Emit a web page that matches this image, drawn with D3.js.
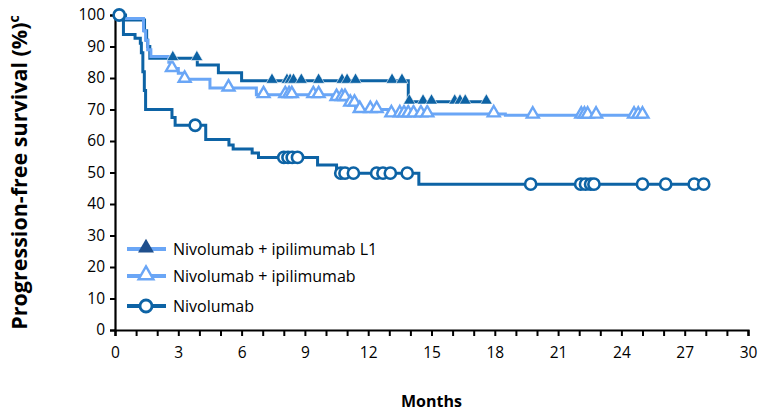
<!DOCTYPE html>
<html>
<head>
<meta charset="utf-8">
<script src="https://cdn.jsdelivr.net/npm/d3@7"></script>
<style>
  body { margin: 0; background: #fff; }
  svg text { font-family: "Open Sans", sans-serif; }
</style>
</head>
<body>
<svg id="graph" width="762" height="411"></svg>
<script>
// tick labels
const x_ticks = [0, 3, 6, 9, 12, 15, 18, 21, 24, 27, 30]
const y_ticks = [0, 10, 20, 30, 40, 50, 60, 70, 80, 90, 100]

// Nivolumab + ipilimumab L1 (step times in months, survival %)
const l1_t = [0, 0.5, 1.4, 1.5, 1.55, 1.65, 3.9, 4.9, 6.0, 13.9, 17.6]
const l1_s = [100, 98.4, 95, 92, 90, 86.3, 84.1, 81.7, 79.1, 72.5, 72.5]
const l1_censor = [2.74, 3.88, 7.44, 8.15, 8.3, 8.46, 8.83, 9.65, 10.76, 11.0, 11.4, 13.13, 13.6,
  13.95, 14.6, 15.0, 16.1, 16.35, 16.6, 17.6]

// Nivolumab + ipilimumab
const ni_t = [0, 0.35, 1.35, 1.45, 1.55, 1.7, 2.55, 2.65, 3.0, 3.25, 4.5, 6.7, 10.3, 11.0, 11.4, 12.95, 18.5, 25.0]
const ni_s = [100, 98.9, 95, 92, 89, 86.8, 85, 83, 81.5, 79.6, 76.8, 74.7, 73.8, 72, 70, 68.6, 68.2, 68.2]
const ni_censor = [2.7, 3.3, 5.38, 7.04, 8.07, 8.25, 8.38, 9.4, 9.65, 10.5, 10.75, 10.9, 11.15, 11.35,
  11.6, 12.1, 12.4, 13.1, 13.5, 13.7, 13.9, 14.15, 14.5, 14.8, 17.95, 19.8, 22.1, 22.25, 22.4, 22.8,
  24.6, 24.8, 25.0]

// Nivolumab
const nv_t = [0, 0.4, 0.95, 1.2, 1.25, 1.32, 1.39, 1.45, 2.7, 2.85, 4.3, 5.4, 5.6, 6.5, 6.8, 9.6, 10.5, 14.4, 27.9]
const nv_s = [100, 93.8, 92.6, 91, 88, 82, 76, 70, 67.5, 65, 60.5, 58.7, 57.5, 56.2, 54.8, 52.4, 49.8, 46.3, 46.3]
const nv_censor = [0.2, 3.8, 8.0, 8.2, 8.4, 8.65, 10.7, 10.9, 11.3, 12.4, 12.7, 13.05, 13.85, 19.7,
  22.07, 22.3, 22.54, 22.7, 25.0, 26.1, 27.45, 27.9]

const dark = "#0d63a5"
const light = "#6aa6f6"
const navy = "#1f4f8c"

const series = [
  {name: "Nivolumab + ipilimumab L1", t: l1_t, s: l1_s, censor: l1_censor, color: dark, marker: "tri_filled"},
  {name: "Nivolumab + ipilimumab", t: ni_t, s: ni_s, censor: ni_censor, color: light, marker: "tri_open"},
  {name: "Nivolumab", t: nv_t, s: nv_s, censor: nv_censor, color: dark, marker: "circle"},
]

const marginLeft = 115, marginRight = 14, marginTop = 15, marginBottom = 81
const width = 762, height = 411

const svg = d3.select("#graph")

const x = d3.scaleLinear().domain([0, 30]).range([marginLeft, width - marginRight])
const y = d3.scaleLinear().domain([0, 100]).range([height - marginBottom, marginTop])

// value of a step curve at time c
function surv_at(d, c){
  const i = Math.max(0, d3.bisectRight(d.t, c) - 1)
  return d.s[i]
}

const tri = d3.symbol().type(d3.symbolTriangle).size(62)

function draw_marker(g, kind, color){
  if (kind == "circle"){
    g.append("circle").attr("r", 5.6).attr("fill", "#fff").attr("stroke", color).attr("stroke-width", 2.6)
  } else if (kind == "tri_filled"){
    g.append("path").attr("d", tri()).attr("transform", "translate(0,-1)").attr("fill", color).attr("stroke", "#fff").attr("stroke-width", 0.6)
  } else {
    g.append("path").attr("d", tri()).attr("transform", "translate(0,-1)").attr("fill", "#fff").attr("stroke", color).attr("stroke-width", 2.4)
  }
}

// axes
const xAxis = svg.append("g")
  .attr("transform", `translate(0,${y(0)})`)
  .call(d3.axisBottom(x).tickValues(d3.range(0, 31, 1)).tickSize(6).tickFormat(d => x_ticks.includes(d) ? d : ""))
xAxis.select(".domain").attr("stroke", "#000").attr("stroke-width", 2.2)
xAxis.selectAll(".tick line").attr("stroke", "#000").attr("stroke-width", 2)
xAxis.selectAll(".tick text").attr("font-size", 15.5).attr("fill", "#000").attr("dy", "1.25em")

const yAxis = svg.append("g")
  .attr("transform", `translate(${x(0)},0)`)
  .call(d3.axisLeft(y).tickValues(y_ticks).tickSize(5).tickPadding(5))
yAxis.select(".domain").attr("stroke", "#000").attr("stroke-width", 2.2)
yAxis.selectAll(".tick line").attr("stroke", "#000").attr("stroke-width", 2)
yAxis.selectAll(".tick text").attr("font-size", 15.5).attr("fill", "#000")

// curves
const line = d3.line().x(p => x(p[0])).y(p => y(p[1])).curve(d3.curveStepAfter)

series.forEach(d => {
  const pts = d.t.map((t, i) => [t, d.s[i]])
  svg.append("path")
    .attr("d", line(pts))
    .attr("fill", "none")
    .attr("stroke", d.color)
    .attr("stroke-width", 3)
})

// censor marks, drawn per series in order
series.slice().reverse().forEach(d => {
  d.censor.forEach(c => {
    const g = svg.append("g").attr("transform", `translate(${x(c)},${y(surv_at(d, c))})`)
    draw_marker(g, d.marker, d.color)
  })
})

// legend
const legend_rows = [
  {label: series[0].name, line: light, marker: "tri_filled", mcolor: navy, y: 249},
  {label: series[1].name, line: light, marker: "tri_open", mcolor: light, y: 276},
  {label: series[2].name, line: dark, marker: "circle", mcolor: dark, y: 306},
]
legend_rows.forEach(r => {
  svg.append("line")
    .attr("x1", 127).attr("x2", 166)
    .attr("y1", r.y).attr("y2", r.y)
    .attr("stroke", r.line).attr("stroke-width", 4)
  const g = svg.append("g").attr("transform", `translate(146,${r.y})`)
  if (r.marker == "tri_filled"){
    g.append("path").attr("d", d3.symbol().type(d3.symbolTriangle).size(110)()).attr("transform", "translate(0,-1)").attr("fill", r.mcolor)
  } else if (r.marker == "tri_open"){
    g.append("path").attr("d", d3.symbol().type(d3.symbolTriangle).size(95)()).attr("transform", "translate(0,-1)").attr("fill", "#fff").attr("stroke", r.mcolor).attr("stroke-width", 2.4)
  } else {
    g.append("circle").attr("r", 6).attr("fill", "#fff").attr("stroke", r.mcolor).attr("stroke-width", 2.8)
  }
  svg.append("text")
    .attr("x", 173).attr("y", r.y)
    .attr("dy", "0.35em")
    .attr("font-size", 16)
    .attr("fill", "#000")
    .text(r.label)
})

// axis titles
const ytitle = svg.append("text")
  .attr("transform", `translate(27,${(y(0) + y(100)) / 2}) rotate(-90)`)
  .attr("text-anchor", "middle")
  .attr("font-size", 21.5)
  .attr("font-weight", "bold")
  .attr("fill", "#000")
ytitle.append("tspan").text("Progression-free survival (%)")
ytitle.append("tspan").attr("font-size", 14).attr("dy", "-0.6em").text("c")

svg.append("text")
  .attr("x", (x(0) + x(30)) / 2)
  .attr("y", 407)
  .attr("text-anchor", "middle")
  .attr("font-size", 16)
  .attr("font-weight", "bold")
  .attr("fill", "#000")
  .text("Months")
</script>
</body>
</html>
